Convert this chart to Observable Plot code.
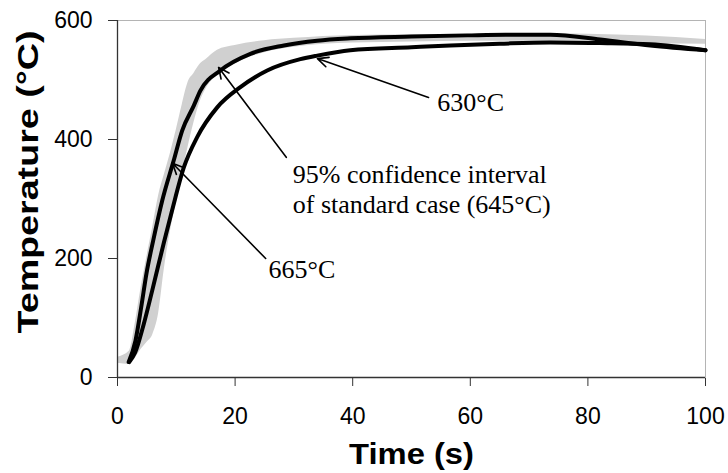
<!DOCTYPE html>
<html><head><meta charset="utf-8">
<script src="https://cdn.jsdelivr.net/npm/d3@7"></script>
<script src="https://cdn.jsdelivr.net/npm/@observablehq/plot@0.6"></script>
<style>body{margin:0;background:#fff}</style>
</head><body><div id="chart"></div>
<script>
// Axis ticks
const xTicks = [0, 20, 40, 60, 80, 100];
const yTicks = [0, 200, 400, 600];
const xTitle = "Time (s)";
const yTitle = "Temperature (°C)";

// 665°C case
const time665 = [1.9, 3.06, 4.03, 4.93, 6.07, 7.6, 9.57, 11.0, 12.98, 14.1, 17.5, 22.6, 28.3, 33.96, 39.6, 50, 59.5, 66, 73.6, 82.1, 90.6, 100];
const temp665 = [26, 62, 118, 175, 230, 297, 365, 415, 457, 482, 516, 544, 558, 566, 570, 573, 575, 576, 576, 568, 558, 550];

// 630°C case
const time630 = [2.0, 3.0, 4.47, 5.9, 7.87, 9.29, 11.28, 13.55, 16.96, 20.9, 25.46, 31.1, 33.96, 39.6, 50, 56.6, 65, 73.6, 82, 90.6, 100];
const temp630 = [26, 42, 90, 146, 226, 281, 353, 404, 454, 488, 516, 535, 541, 550, 555, 558, 561, 563, 562, 560, 550];

// 95% confidence interval of standard case (645°C)
const bandTime = [0, 2, 3, 4, 5, 6, 7, 8, 9, 10, 11, 12, 13, 14, 15, 17, 20, 25, 30, 40, 50, 60, 70, 80, 90, 100];
const bandLow  = [24, 22, 32, 47, 59, 72, 108, 185, 246, 294, 342, 387, 428, 462, 484, 508, 527, 546, 555, 562, 564, 565, 565, 563, 561, 560];
const bandHigh = [34, 44, 90, 150, 203, 253, 306, 342, 377, 416, 458, 496, 511, 526, 534, 550, 558, 566, 570, 575, 576, 577, 578, 577, 574, 568];

// Annotations (data coordinates)
const labelText = ["630°C", "95% confidence interval\nof standard case (645°C)", "665°C"];
const labelX = [54.4, 29.8, 25.7];
const labelY = [448.7, 277.3, 166.4];
const arrowX1 = [52.9, 28.7, 25.2];
const arrowY1 = [470.6, 370, 200];
const arrowX2 = [34.0, 17.2, 9.35];
const arrowY2 = [536, 521, 360];

const s665 = time665.map((t, i) => ({t, v: temp665[i]}));
const s630 = time630.map((t, i) => ({t, v: temp630[i]}));
const band = bandTime.map((t, i) => ({t, lo: bandLow[i], hi: bandHigh[i]}));
const idx = d3.range(labelText.length);

const chart = Plot.plot({
  width: 728,
  height: 473,
  marginLeft: 117,
  marginRight: 23,
  marginTop: 20,
  marginBottom: 96,
  style: {fontFamily: "'Liberation Sans', Arial, sans-serif", fontSize: "23px", background: "white", color: "black"},
  x: {domain: [0, 100], ticks: xTicks, tickSize: 9, tickPadding: 21, label: null, tickFormat: d => String(d)},
  y: {domain: [0, 600], ticks: yTicks, tickSize: 9, tickPadding: 16, label: null, tickFormat: d => String(d)},
  marks: [
    Plot.frame({stroke: "#b4b4b4", strokeWidth: 1}),
    Plot.areaY(band, {x: "t", y1: "lo", y2: "hi", fill: "#d0d0d0", curve: "monotone-x"}),
    Plot.line(s630, {x: "t", y: "v", stroke: "black", strokeWidth: 4, curve: "monotone-x", strokeLinejoin: "round", strokeLinecap: "round"}),
    Plot.line(s665, {x: "t", y: "v", stroke: "black", strokeWidth: 4, curve: "monotone-x", strokeLinejoin: "round", strokeLinecap: "round"}),
    Plot.ruleX([0], {stroke: "#333", strokeWidth: 1.3}),
    Plot.ruleY([0], {stroke: "#333", strokeWidth: 1.3}),
    Plot.arrow(idx, {x1: i => arrowX1[i], y1: i => arrowY1[i], x2: i => arrowX2[i], y2: i => arrowY2[i], stroke: "black", strokeWidth: 1.6, headLength: 11, headAngle: 50}),
    Plot.text(idx, {x: i => labelX[i], y: i => labelY[i], text: i => labelText[i], textAnchor: "start", lineAnchor: "bottom", lineHeight: 1.12, fontFamily: "'Liberation Serif', 'Times New Roman', serif", fontSize: 26, fill: "black"}),
    Plot.text([xTitle], {frameAnchor: "bottom", dy: 86, text: d => d, lineAnchor: "bottom", textAnchor: "middle", fontWeight: "bold", fontSize: 30, fill: "black"}),
    Plot.text([yTitle], {frameAnchor: "left", dx: -80, dy: -17, rotate: -90, text: d => d, lineAnchor: "bottom", textAnchor: "middle", fontWeight: "bold", fontSize: 30, fill: "black"})
  ]
});

d3.select(chart).selectAll("text").each(function() {
  if (this.textContent === yTitle) { this.setAttribute("textLength", 303); this.setAttribute("lengthAdjust", "spacingAndGlyphs"); }
  if (this.textContent === xTitle) { this.setAttribute("textLength", 125); this.setAttribute("lengthAdjust", "spacingAndGlyphs"); }
});
d3.select(chart).selectAll("[aria-label='x-axis tick'] path, [aria-label='y-axis tick'] path").attr("stroke", "#333");
document.getElementById("chart").appendChild(chart);
</script>
</body></html>
